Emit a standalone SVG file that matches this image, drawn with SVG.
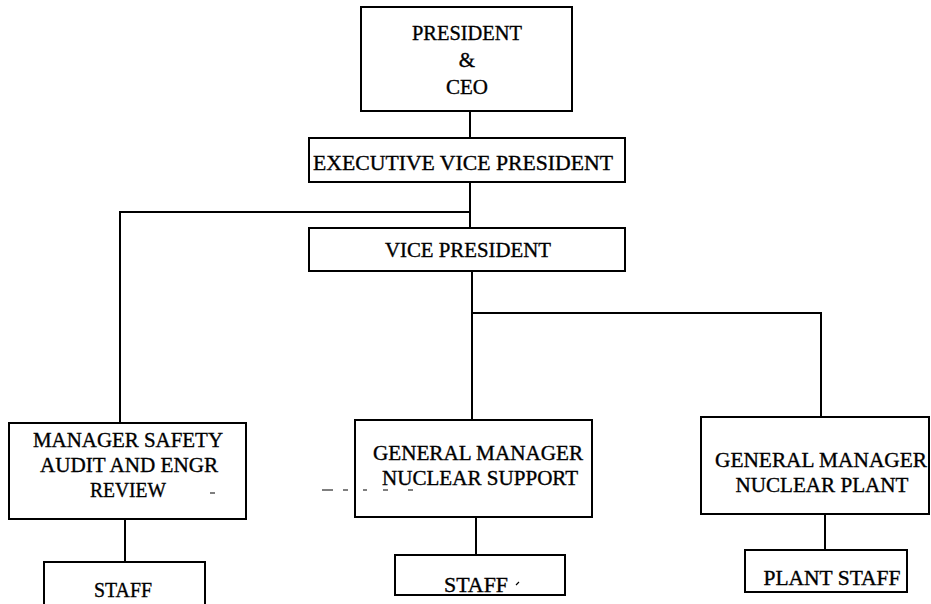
<svg xmlns="http://www.w3.org/2000/svg" width="931" height="604" viewBox="0 0 931 604">
  <style>
    .box { fill: none; stroke: #000000; stroke-width: 2; }
    .wire { fill: none; stroke: #000000; stroke-width: 2; }
    .mark { fill: none; stroke: #000000; stroke-width: 1.2; }
    text { font-family: "Liberation Serif", "Times New Roman", serif; font-size: 21px; fill: #000000; stroke: #000000; stroke-width: 0.35; text-anchor: middle; }
  </style>
  <rect x="0" y="0" width="931" height="604" fill="#ffffff"/>

  <!-- reporting lines -->
  <g id="connectors">
    <path class="wire" d="M470 111 V138"/>
    <path class="wire" d="M470 182 V228"/>
    <path class="wire" d="M470 212 H120 V423"/>
    <path class="wire" d="M472 271 V420"/>
    <path class="wire" d="M472 313 H821 V417"/>
    <path class="wire" d="M125 519 V562"/>
    <path class="wire" d="M476 517 V555"/>
    <path class="wire" d="M825 514 V550"/>
    <!-- faint broken line and stray marks -->
    <path class="mark" d="M322 490 H333 M343 490 H348 M363 490 H367 M383 490 H388 M408 490 H413 M210 493 H215 M516 585 L519 582"/>
  </g>

  <g id="president">
    <rect class="box" x="361" y="7" width="211" height="104"/>
    <text x="467" y="40" textLength="110" lengthAdjust="spacingAndGlyphs">PRESIDENT</text>
    <text x="467" y="67">&amp;</text>
    <text x="467" y="94">CEO</text>
  </g>

  <g id="executive-vp">
    <rect class="box" x="309" y="138" width="316" height="44"/>
    <text x="463" y="170" textLength="300" lengthAdjust="spacingAndGlyphs">EXECUTIVE VICE PRESIDENT</text>
  </g>

  <g id="vice-president">
    <rect class="box" x="309" y="228" width="316" height="43"/>
    <text x="468" y="257" textLength="166" lengthAdjust="spacingAndGlyphs">VICE PRESIDENT</text>
  </g>

  <g id="manager-safety">
    <rect class="box" x="9" y="423" width="237" height="96"/>
    <text x="128" y="447" textLength="190" lengthAdjust="spacingAndGlyphs">MANAGER SAFETY</text>
    <text x="129" y="472" textLength="178" lengthAdjust="spacingAndGlyphs">AUDIT AND ENGR</text>
    <text x="128" y="497" textLength="76" lengthAdjust="spacingAndGlyphs">REVIEW</text>
  </g>

  <g id="safety-staff">
    <rect class="box" x="44" y="562" width="161" height="50"/>
    <text x="123" y="597" textLength="58" lengthAdjust="spacingAndGlyphs">STAFF</text>
  </g>

  <g id="gm-nuclear-support">
    <rect class="box" x="355" y="420" width="237" height="97"/>
    <text x="478" y="460" textLength="210" lengthAdjust="spacingAndGlyphs">GENERAL MANAGER</text>
    <text x="480" y="485" textLength="196" lengthAdjust="spacingAndGlyphs">NUCLEAR SUPPORT</text>
  </g>

  <g id="support-staff">
    <rect class="box" x="395" y="555" width="170" height="40"/>
    <text x="476" y="592" textLength="64" lengthAdjust="spacingAndGlyphs">STAFF</text>
  </g>

  <g id="gm-nuclear-plant">
    <rect class="box" x="701" y="417" width="228" height="97"/>
    <text x="821" y="467" textLength="212" lengthAdjust="spacingAndGlyphs">GENERAL MANAGER</text>
    <text x="822" y="492" textLength="173" lengthAdjust="spacingAndGlyphs">NUCLEAR PLANT</text>
  </g>

  <g id="plant-staff">
    <rect class="box" x="745" y="550" width="162" height="42"/>
    <text x="832" y="585" textLength="137" lengthAdjust="spacingAndGlyphs">PLANT STAFF</text>
  </g>
</svg>
